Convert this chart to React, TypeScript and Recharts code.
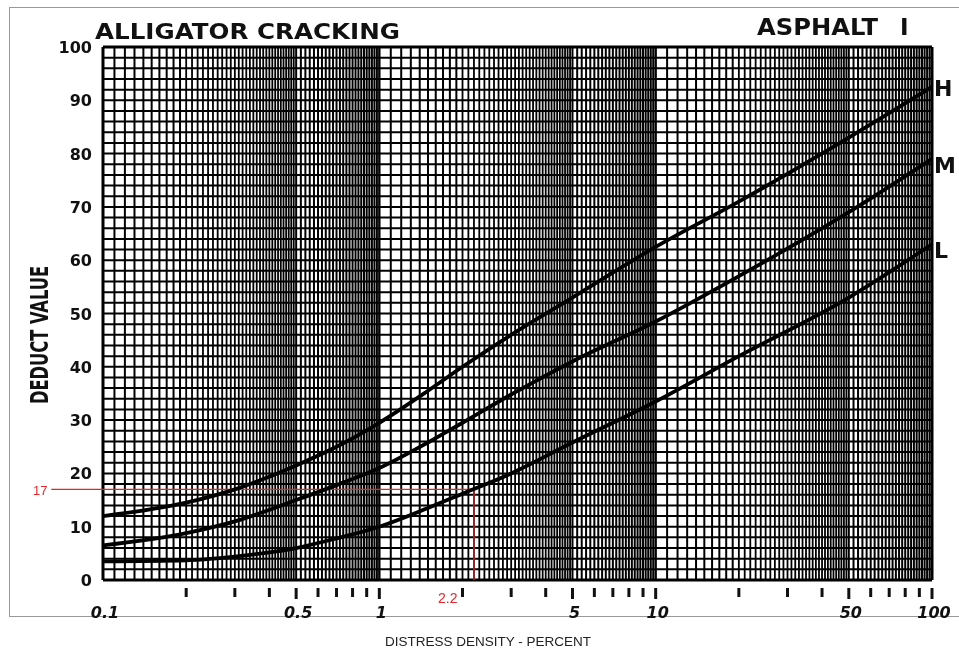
import {
  LineChart,
  Line,
  XAxis,
  YAxis,
  ReferenceLine,
} from "recharts";

// distress density (%) sample points
const density = [0.1, 0.2, 0.3, 0.5, 0.7, 1, 1.5, 2, 3, 5, 10, 20, 50, 100];
const highSev = [12, 14.5, 17, 21.5, 25, 29.5, 35.5, 40, 46, 53, 62.5, 71, 83, 92.5];
const medSev = [6.5, 8.8, 11, 15, 17.8, 21, 25.8, 29.5, 34.8, 41, 48.5, 57, 69, 79];
const lowSev = [3.5, 3.7, 4.4, 6, 7.8, 10, 13.5, 16.2, 20, 25.8, 33.5, 42, 53, 63];

const xTicks = [
  0.1, 0.2, 0.3, 0.4, 0.5, 0.6, 0.7, 0.8, 0.9, 1, 2, 3, 4, 5, 6, 7, 8, 9, 10,
  20, 30, 40, 50, 60, 70, 80, 90, 100,
];
const xTickLabels: Record<string, string> = {
  "0.1": "0.1",
  "0.5": "0.5",
  "1": "1",
  "5": "5",
  "10": "10",
  "50": "50",
  "100": "100",
};
const yTicks = [0, 10, 20, 30, 40, 50, 60, 70, 80, 90, 100];

const readValue = 17;
const readDensity = 2.2;

// log paper rulings: per decade 1-5 by 0.1, 5-10 by 0.2
const decades = [0.1, 1, 10];
const gridX: number[] = [];
decades.forEach((d) => {
  for (let i = 11; i < 50; i++) gridX.push(+(d * i / 10).toFixed(4));
  for (let i = 50; i < 100; i += 2) gridX.push(+(d * i / 10).toFixed(4));
});
const gridY: number[] = [];
for (let v = 2; v < 100; v += 2) gridY.push(v);

const chartData = density.map((d, i) => ({
  d,
  H: highSev[i],
  M: medSev[i],
  L: lowSev[i],
}));

const FONT = "'DejaVu Sans', sans-serif";

// mantissa of a grid value, 1..10
const mant = (v: number) => v / Math.pow(10, Math.floor(Math.log10(v) + 1e-9));

function XTick(props: any) {
  const { x, y, payload } = props;
  const label = xTickLabels[String(payload.value)];
  const major = label !== undefined;
  return (
    <g>
      {payload.value !== 0.1 && (
        <line x1={x} x2={x} y1={y} y2={y + (major ? 11 : 9)} stroke="#111" strokeWidth={3} />
      )}
      {label && (
        <text
          x={x + 2}
          y={y + 30}
          textAnchor="middle"
          fontFamily={FONT}
          fontWeight="bold"
          fontStyle="italic"
          fontSize={16}
          fill="#111"
        >
          {label}
        </text>
      )}
    </g>
  );
}

function YTick(props: any) {
  const { x, y, payload } = props;
  return (
    <text
      x={x - 3}
      y={y + 6}
      textAnchor="end"
      fontFamily={FONT}
      fontWeight="bold"
      fontSize={16}
      fill="#111"
    >
      {payload.value}
    </text>
  );
}

const endLabel = (name: string) => (props: any) => {
  const { x, y, index } = props;
  if (index !== density.length - 1) return null;
  return (
    <text
      key={name}
      x={x + 2}
      y={y + 9 + (name === "H" ? 0 : 5)}
      fontFamily={FONT}
      fontWeight="bold"
      fontSize={22}
      fill="#111"
    >
      {name}
    </text>
  );
};

export default function App() {
  return (
    <div style={{ position: "fixed", left: 8, top: 8, width: 951, height: 644 }}>
      <div
        style={{
          position: "absolute",
          left: 1,
          top: -1,
          width: 960,
          height: 610,
          borderTop: "1px solid #999",
          borderLeft: "1px solid #999",
          borderBottom: "1px solid #999",
          boxSizing: "border-box",
        }}
      />
      <div style={{ position: "absolute", left: 0, top: 0 }}>
        <LineChart
          width={951}
          height={636}
          data={chartData}
          margin={{ top: 39, right: 27, bottom: 0, left: 0 }}
        >
          <XAxis
            dataKey="d"
            type="number"
            scale="log"
            domain={[0.1, 100]}
            ticks={xTicks}
            interval={0}
            height={64}
            axisLine={false}
            tickLine={false}
            tick={<XTick />}
          />
          <YAxis
            type="number"
            domain={[0, 100]}
            ticks={yTicks}
            interval={0}
            width={95}
            axisLine={false}
            tickLine={false}
            tick={<YTick />}
          />
          {gridY.map((v) => (
            <ReferenceLine key={`gy-${v}`} y={v} stroke="#000" strokeWidth={2} />
          ))}
          {gridX.map((v) => {
            const m = mant(v);
            return (
              <ReferenceLine
                key={`gx-${v}`}
                x={v}
                stroke="#000"
                strokeWidth={m < 2 ? 2 : m < 5 ? 1.8 : 2}
              />
            );
          })}
          <ReferenceLine x={0.1} stroke="#000" strokeWidth={3} />
          <ReferenceLine x={1} stroke="#000" strokeWidth={2.4} />
          <ReferenceLine x={10} stroke="#000" strokeWidth={2.4} />
          <ReferenceLine x={100} stroke="#000" strokeWidth={3} />
          <ReferenceLine y={0} stroke="#000" strokeWidth={3} />
          <ReferenceLine y={100} stroke="#000" strokeWidth={3} />
          <ReferenceLine
            segment={[
              { x: 0.065, y: readValue },
              { x: readDensity, y: readValue },
            ]}
            stroke="#e3262b"
            strokeWidth={1.3}
            ifOverflow="visible"
          />
          <ReferenceLine
            segment={[
              { x: readDensity, y: readValue },
              { x: readDensity, y: 0 },
            ]}
            stroke="#e3262b"
            strokeWidth={1.3}
            ifOverflow="visible"
          />
          <Line
            dataKey="H"
            type="monotone"
            stroke="#000"
            strokeWidth={3.8}
            dot={false}
            label={endLabel("H")}
            isAnimationActive={false}
          />
          <Line
            dataKey="M"
            type="monotone"
            stroke="#000"
            strokeWidth={3.8}
            dot={false}
            label={endLabel("M")}
            isAnimationActive={false}
          />
          <Line
            dataKey="L"
            type="monotone"
            stroke="#000"
            strokeWidth={3.8}
            dot={false}
            label={endLabel("L")}
            isAnimationActive={false}
          />
        </LineChart>
      </div>
      <svg
        width={951}
        height={644}
        style={{ position: "absolute", left: 0, top: 0, pointerEvents: "none" }}
      >
        <text
          x={87}
          y={31}
          fontFamily={FONT}
          fontWeight="bold"
          fontSize={22}
          textLength={305}
          lengthAdjust="spacingAndGlyphs"
          fill="#111"
        >
          ALLIGATOR  CRACKING
        </text>
        <text
          x={749}
          y={27}
          fontFamily={FONT}
          fontWeight="bold"
          fontSize={23}
          textLength={121}
          lengthAdjust="spacingAndGlyphs"
          fill="#111"
        >
          ASPHALT
        </text>
        <text x={892} y={27} fontFamily={FONT} fontWeight="bold" fontSize={23} fill="#111">
          I
        </text>
        <text
          transform="translate(40, 327) rotate(-90)"
          textAnchor="middle"
          fontFamily="'DejaVu Sans Condensed', 'DejaVu Sans', sans-serif"
          fontWeight="bold"
          fontSize={24}
          textLength={138}
          lengthAdjust="spacingAndGlyphs"
          fill="#111"
        >
          DEDUCT VALUE
        </text>
        <text x={25} y={487} fontFamily="'Liberation Sans', Arial, sans-serif" fontSize={13} fill="#e3262b">
          17
        </text>
        <text x={430} y={595} fontFamily="'Liberation Sans', Arial, sans-serif" fontSize={14} fill="#e3262b">
          2.2
        </text>
        <text
          x={480}
          y={638}
          textAnchor="middle"
          fontFamily="'Liberation Sans', Arial, sans-serif"
          fontSize={13.5}
          fill="#222"
        >
          DISTRESS DENSITY - PERCENT
        </text>
      </svg>
    </div>
  );
}
